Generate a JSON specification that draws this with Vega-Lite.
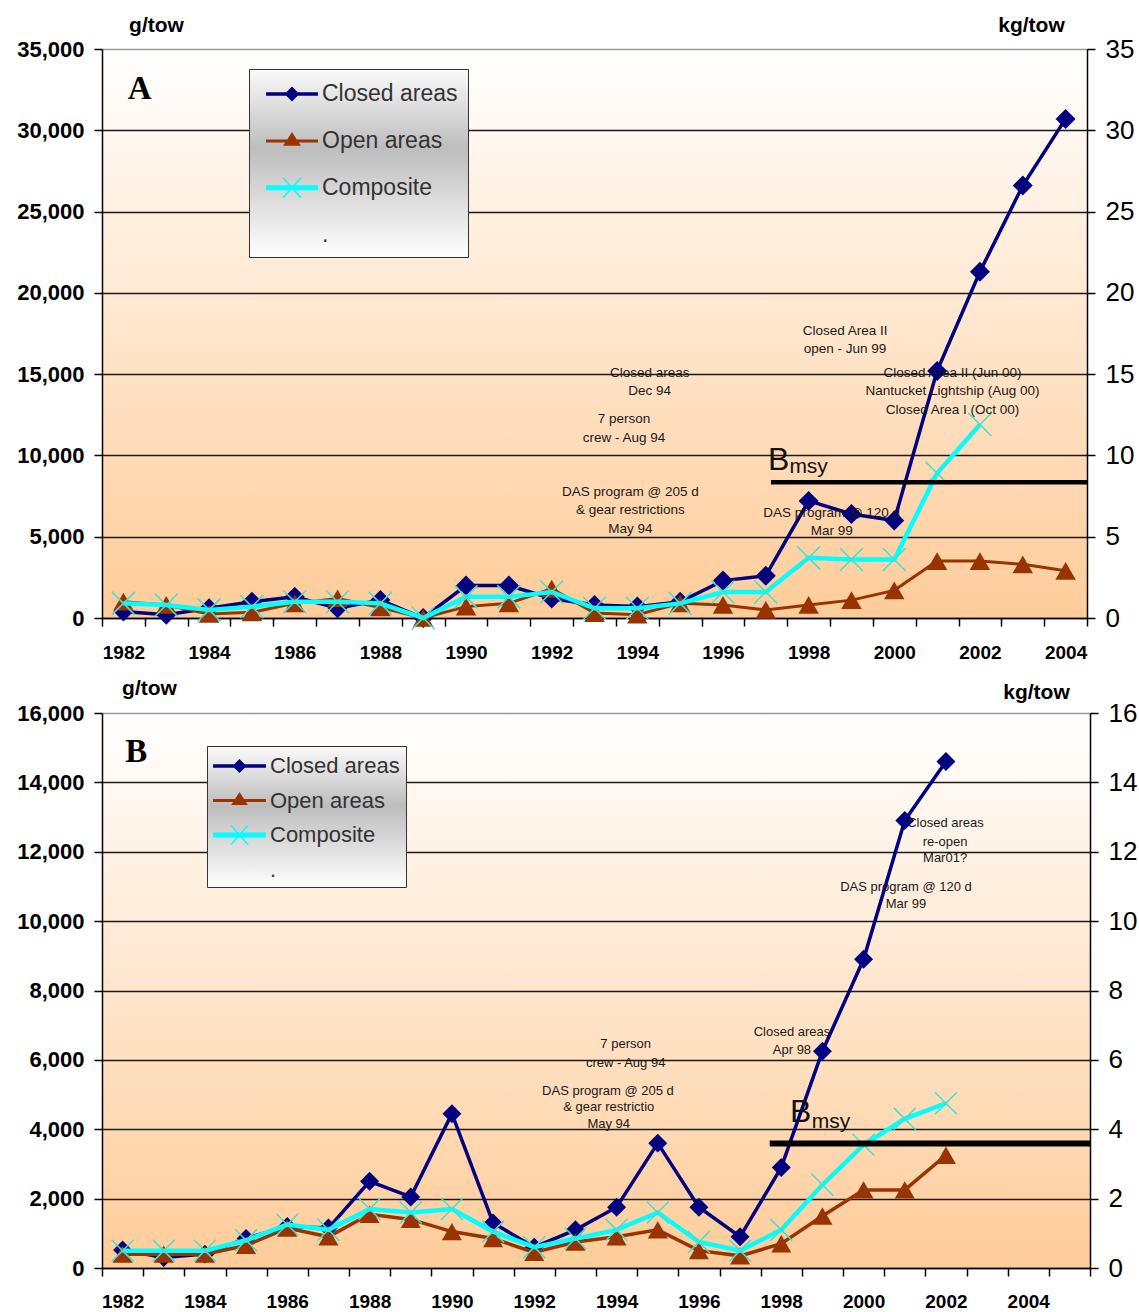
{
  "$schema": "https://vega.github.io/schema/vega-lite/v6.json",
  "background": "white",
  "padding": {"left": 16, "top": 14, "right": 5, "bottom": 5},
  "spacing": 15,
  "config": {
    "view": {"fill": {"gradient": "linear", "x1": 0, "y1": 0, "x2": 0, "y2": 1, "stops": [{"offset": 0, "color": "#ffffff"}, {"offset": 1, "color": "#ffcc99"}]}, "stroke": null},
    "font": "Liberation Sans",
    "axis": {"domainColor": "#000000", "tickColor": "#000000", "domainWidth": 1.5, "tickWidth": 1.5, "labelColor": "#000000", "titleColor": "#000000"}
  },
  "datasets": {
    "series": [
      {"p":"A","s":"Closed areas","year":1982,"value":400},{"p":"A","s":"Closed areas","year":1983,"value":200},{"p":"A","s":"Closed areas","year":1984,"value":600},{"p":"A","s":"Closed areas","year":1985,"value":1000},{"p":"A","s":"Closed areas","year":1986,"value":1300},{"p":"A","s":"Closed areas","year":1987,"value":600},{"p":"A","s":"Closed areas","year":1988,"value":1100},{"p":"A","s":"Closed areas","year":1989,"value":0},{"p":"A","s":"Closed areas","year":1990,"value":2000},{"p":"A","s":"Closed areas","year":1991,"value":2000},{"p":"A","s":"Closed areas","year":1992,"value":1200},{"p":"A","s":"Closed areas","year":1993,"value":800},{"p":"A","s":"Closed areas","year":1994,"value":700},{"p":"A","s":"Closed areas","year":1995,"value":1000},{"p":"A","s":"Closed areas","year":1996,"value":2300},{"p":"A","s":"Closed areas","year":1997,"value":2600},{"p":"A","s":"Closed areas","year":1998,"value":7200},{"p":"A","s":"Closed areas","year":1999,"value":6400},{"p":"A","s":"Closed areas","year":2000,"value":6000},{"p":"A","s":"Closed areas","year":2001,"value":15200},{"p":"A","s":"Closed areas","year":2002,"value":21300},{"p":"A","s":"Closed areas","year":2003,"value":26600},{"p":"A","s":"Closed areas","year":2004,"value":30700},
      {"p":"A","s":"Open areas","year":1982,"value":1000},{"p":"A","s":"Open areas","year":1983,"value":800},{"p":"A","s":"Open areas","year":1984,"value":250},{"p":"A","s":"Open areas","year":1985,"value":350},{"p":"A","s":"Open areas","year":1986,"value":900},{"p":"A","s":"Open areas","year":1987,"value":1200},{"p":"A","s":"Open areas","year":1988,"value":650},{"p":"A","s":"Open areas","year":1989,"value":0},{"p":"A","s":"Open areas","year":1990,"value":700},{"p":"A","s":"Open areas","year":1991,"value":900},{"p":"A","s":"Open areas","year":1992,"value":1800},{"p":"A","s":"Open areas","year":1993,"value":300},{"p":"A","s":"Open areas","year":1994,"value":200},{"p":"A","s":"Open areas","year":1995,"value":900},{"p":"A","s":"Open areas","year":1996,"value":800},{"p":"A","s":"Open areas","year":1997,"value":500},{"p":"A","s":"Open areas","year":1998,"value":800},{"p":"A","s":"Open areas","year":1999,"value":1100},{"p":"A","s":"Open areas","year":2000,"value":1700},{"p":"A","s":"Open areas","year":2001,"value":3500},{"p":"A","s":"Open areas","year":2002,"value":3500},{"p":"A","s":"Open areas","year":2003,"value":3300},{"p":"A","s":"Open areas","year":2004,"value":2900},
      {"p":"A","s":"Composite","year":1982,"value":900},{"p":"A","s":"Composite","year":1983,"value":800},{"p":"A","s":"Composite","year":1984,"value":500},{"p":"A","s":"Composite","year":1985,"value":700},{"p":"A","s":"Composite","year":1986,"value":1000},{"p":"A","s":"Composite","year":1987,"value":1000},{"p":"A","s":"Composite","year":1988,"value":900},{"p":"A","s":"Composite","year":1989,"value":0},{"p":"A","s":"Composite","year":1990,"value":1300},{"p":"A","s":"Composite","year":1991,"value":1300},{"p":"A","s":"Composite","year":1992,"value":1600},{"p":"A","s":"Composite","year":1993,"value":600},{"p":"A","s":"Composite","year":1994,"value":600},{"p":"A","s":"Composite","year":1995,"value":900},{"p":"A","s":"Composite","year":1996,"value":1600},{"p":"A","s":"Composite","year":1997,"value":1600},{"p":"A","s":"Composite","year":1998,"value":3700},{"p":"A","s":"Composite","year":1999,"value":3600},{"p":"A","s":"Composite","year":2000,"value":3600},{"p":"A","s":"Composite","year":2001,"value":8900},{"p":"A","s":"Composite","year":2002,"value":11900},
      {"p":"B","s":"Closed areas","year":1982,"value":520},{"p":"B","s":"Closed areas","year":1983,"value":300},{"p":"B","s":"Closed areas","year":1984,"value":400},{"p":"B","s":"Closed areas","year":1985,"value":850},{"p":"B","s":"Closed areas","year":1986,"value":1200},{"p":"B","s":"Closed areas","year":1987,"value":1150},{"p":"B","s":"Closed areas","year":1988,"value":2500},{"p":"B","s":"Closed areas","year":1989,"value":2050},{"p":"B","s":"Closed areas","year":1990,"value":4450},{"p":"B","s":"Closed areas","year":1991,"value":1300},{"p":"B","s":"Closed areas","year":1992,"value":600},{"p":"B","s":"Closed areas","year":1993,"value":1100},{"p":"B","s":"Closed areas","year":1994,"value":1750},{"p":"B","s":"Closed areas","year":1995,"value":3600},{"p":"B","s":"Closed areas","year":1996,"value":1750},{"p":"B","s":"Closed areas","year":1997,"value":900},{"p":"B","s":"Closed areas","year":1998,"value":2900},{"p":"B","s":"Closed areas","year":1999,"value":6250},{"p":"B","s":"Closed areas","year":2000,"value":8900},{"p":"B","s":"Closed areas","year":2001,"value":12900},{"p":"B","s":"Closed areas","year":2002,"value":14600},
      {"p":"B","s":"Open areas","year":1982,"value":400},{"p":"B","s":"Open areas","year":1983,"value":400},{"p":"B","s":"Open areas","year":1984,"value":400},{"p":"B","s":"Open areas","year":1985,"value":650},{"p":"B","s":"Open areas","year":1986,"value":1150},{"p":"B","s":"Open areas","year":1987,"value":900},{"p":"B","s":"Open areas","year":1988,"value":1550},{"p":"B","s":"Open areas","year":1989,"value":1400},{"p":"B","s":"Open areas","year":1990,"value":1050},{"p":"B","s":"Open areas","year":1991,"value":850},{"p":"B","s":"Open areas","year":1992,"value":450},{"p":"B","s":"Open areas","year":1993,"value":750},{"p":"B","s":"Open areas","year":1994,"value":900},{"p":"B","s":"Open areas","year":1995,"value":1100},{"p":"B","s":"Open areas","year":1996,"value":500},{"p":"B","s":"Open areas","year":1997,"value":350},{"p":"B","s":"Open areas","year":1998,"value":700},{"p":"B","s":"Open areas","year":1999,"value":1500},{"p":"B","s":"Open areas","year":2000,"value":2250},{"p":"B","s":"Open areas","year":2001,"value":2250},{"p":"B","s":"Open areas","year":2002,"value":3250},
      {"p":"B","s":"Composite","year":1982,"value":500},{"p":"B","s":"Composite","year":1983,"value":500},{"p":"B","s":"Composite","year":1984,"value":500},{"p":"B","s":"Composite","year":1985,"value":800},{"p":"B","s":"Composite","year":1986,"value":1250},{"p":"B","s":"Composite","year":1987,"value":1100},{"p":"B","s":"Composite","year":1988,"value":1700},{"p":"B","s":"Composite","year":1989,"value":1600},{"p":"B","s":"Composite","year":1990,"value":1700},{"p":"B","s":"Composite","year":1991,"value":1050},{"p":"B","s":"Composite","year":1992,"value":600},{"p":"B","s":"Composite","year":1993,"value":850},{"p":"B","s":"Composite","year":1994,"value":1100},{"p":"B","s":"Composite","year":1995,"value":1600},{"p":"B","s":"Composite","year":1996,"value":750},{"p":"B","s":"Composite","year":1997,"value":500},{"p":"B","s":"Composite","year":1998,"value":1100},{"p":"B","s":"Composite","year":1999,"value":2400},{"p":"B","s":"Composite","year":2000,"value":3550},{"p":"B","s":"Composite","year":2001,"value":4300},{"p":"B","s":"Composite","year":2002,"value":4750}
    ],
    "bmsy": [
      {"p":"A","year":1997.12,"year2":2004.5,"value":8350},
      {"p":"B","year":1997.72,"year2":2005.5,"value":3590}
    ],
    "notes": [
      {"p":"A","k":"note","year":1998.85,"value":17654,"text":"Closed Area II"},
      {"p":"A","k":"note","year":1998.85,"value":16547,"text":"open - Jun 99"},
      {"p":"A","k":"note","year":1994.29,"value":15089,"text":"Closed areas"},
      {"p":"A","k":"note","year":1994.29,"value":13982,"text":"Dec 94"},
      {"p":"A","k":"note","year":1993.69,"value":12241,"text":"7  person"},
      {"p":"A","k":"note","year":1993.69,"value":11054,"text":"crew - Aug 94"},
      {"p":"A","k":"note","year":1993.84,"value":7769,"text":"DAS program @ 205 d"},
      {"p":"A","k":"note","year":1993.84,"value":6643,"text":"& gear restrictions"},
      {"p":"A","k":"note","year":1993.84,"value":5493,"text":"May 94"},
      {"p":"A","k":"note","year":1998.54,"value":6440,"text":"DAS program @ 120 d"},
      {"p":"A","k":"note","year":1998.54,"value":5370,"text":"Mar 99"},
      {"p":"A","k":"note","year":2001.36,"value":15089,"text":"Closed Area II (Jun 00)"},
      {"p":"A","k":"note","year":2001.36,"value":13982,"text":"Nantucket Lightship (Aug 00)"},
      {"p":"A","k":"note","year":2001.36,"value":12794,"text":"Closed Area I (Oct 00)"},
      {"p":"A","k":"big","year":1997.3,"value":9100,"text":"B"},
      {"p":"A","k":"sub","year":1998.0,"value":8900,"text":"msy"},
      {"p":"A","k":"panel","year":1982.38,"value":31900,"text":"A"},
      {"p":"B","k":"note","year":2001.99,"value":12820,"text":"Closed areas"},
      {"p":"B","k":"note","year":2001.98,"value":12290,"text":"re-open"},
      {"p":"B","k":"note","year":2001.98,"value":11830,"text":"Mar01?"},
      {"p":"B","k":"note","year":2001.03,"value":10990,"text":"DAS program @ 120 d"},
      {"p":"B","k":"note","year":2001.03,"value":10480,"text":"Mar 99"},
      {"p":"B","k":"note","year":1998.26,"value":6810,"text":"Closed areas"},
      {"p":"B","k":"note","year":1998.26,"value":6280,"text":"Apr 98"},
      {"p":"B","k":"note","year":1994.22,"value":6450,"text":"7 person"},
      {"p":"B","k":"note","year":1994.22,"value":5900,"text":"crew - Aug 94"},
      {"p":"B","k":"note","year":1993.79,"value":5110,"text":"DAS program @ 205 d"},
      {"p":"B","k":"note","year":1993.81,"value":4650,"text":"& gear restrictio"},
      {"p":"B","k":"note","year":1993.81,"value":4150,"text":"May 94"},
      {"p":"B","k":"big","year":1998.47,"value":4220,"text":"B"},
      {"p":"B","k":"sub","year":1999.21,"value":4030,"text":"msy"},
      {"p":"B","k":"panel","year":1982.33,"value":14600,"text":"B"}
    ]
  },
  "resolve": {"scale": {"x": "independent", "y": "independent", "color": "independent", "shape": "independent"}, "legend": {"color": "independent", "shape": "independent"}},
  "vconcat": [
    {
      "width": 985,
      "height": 569,
      "encoding": {
        "x": {"field": "year", "type": "quantitative", "scale": {"domain": [1981.5, 2004.5], "nice": false, "zero": false},
          "axis": {"values": [1981.5,1982.5,1983.5,1984.5,1985.5,1986.5,1987.5,1988.5,1989.5,1990.5,1991.5,1992.5,1993.5,1994.5,1995.5,1996.5,1997.5,1998.5,1999.5,2000.5,2001.5,2002.5,2003.5,2004.5],
            "labelExpr": "((datum.value + 0.5) % 2 == 0 && datum.value < 2005) ? format(datum.value + 0.5, 'd') : ''",
            "labelOffset": 21.41, "labelFlush": false, "labelOverlap": false, "labelBound": false, "grid": false, "tickSize": 8, "labelPadding": 17, "title": null,
            "labelFont": "Liberation Sans", "labelFontWeight": "bold", "labelFontSize": 19}},
        "y": {"field": "value", "type": "quantitative", "scale": {"domain": [0, 35000], "nice": false, "zero": true}, "axis": null}
      },
      "layer": [
        {"data": {"name": "series"}, "transform": [{"filter": "datum.p == 'A' && datum.s == 'Closed areas'"}],
         "mark": {"type": "line", "color": "#000080", "strokeWidth": 3.5},
         "encoding": {"y": {"field": "value", "type": "quantitative", "scale": {"domain": [0, 35000], "nice": false, "zero": true},
           "axis": {"orient": "left", "values": [0,5000,10000,15000,20000,25000,30000,35000], "labelExpr": "format(datum.value, ',')", "grid": true,
             "gridColor": {"condition": {"test": "datum.value == 35000", "value": "#9a9a9a"}, "value": "#1a1a1a"}, "gridWidth": 1.5,
             "tickSize": 8, "labelPadding": 10, "labelFont": "Liberation Sans", "labelFontWeight": "bold", "labelFontSize": 22,
             "title": "g/tow", "titleAngle": 0, "titleX": 54, "titleY": -24, "titleAlign": "center", "titleBaseline": "middle",
             "titleFont": "Liberation Sans", "titleFontWeight": "bold", "titleFontSize": 21}}}},
        {"data": {"name": "series"}, "transform": [{"filter": "datum.p == 'A' && datum.s == 'Closed areas'"}],
         "mark": {"type": "point", "shape": "diamond", "filled": true, "size": 400, "color": "#000080", "opacity": 1}},
        {"data": {"name": "series"}, "transform": [{"filter": "datum.p == 'A' && datum.s == 'Open areas'"}],
         "mark": {"type": "line", "color": "#993300", "strokeWidth": 3}},
        {"data": {"name": "series"}, "transform": [{"filter": "datum.p == 'A' && datum.s == 'Open areas'"}],
         "mark": {"type": "point", "shape": "triangle-up", "filled": true, "size": 420, "color": "#993300", "opacity": 1}},
        {"data": {"name": "series"}, "transform": [{"filter": "datum.p == 'A' && datum.s == 'Composite'"}],
         "mark": {"type": "line", "color": "#00ffff", "strokeWidth": 4.5}},
        {"data": {"name": "series"}, "transform": [{"filter": "datum.p == 'A' && datum.s == 'Composite'"}],
         "mark": {"type": "point", "shape": "M-1,-1L1,1M-1,1L1,-1", "filled": false, "size": 530, "stroke": "#40e0d0", "strokeWidth": 1.5, "opacity": 1}},
        {"data": {"name": "bmsy"}, "transform": [{"filter": "datum.p == 'A'"}],
         "mark": {"type": "rule", "color": "#000000", "strokeWidth": 4.5},
         "encoding": {"x2": {"field": "year2"},
           "y": {"field": "value", "type": "quantitative", "scale": {"domain": [0, 35000], "nice": false, "zero": true},
             "axis": {"orient": "right", "values": [0,5000,10000,15000,20000,25000,30000,35000], "labelExpr": "format(datum.value / 1000, 'd')", "grid": false,
               "tickSize": 8, "labelPadding": 10, "labelFont": "Liberation Sans", "labelFontSize": 26,
               "title": "kg/tow", "titleAngle": 0, "titleX": -56, "titleY": -24, "titleAlign": "center", "titleBaseline": "middle",
               "titleFont": "Liberation Sans", "titleFontWeight": "bold", "titleFontSize": 21}}}},
        {"data": {"name": "notes"}, "transform": [{"filter": "datum.p == 'A' && datum.k == 'note'"}],
         "mark": {"type": "text", "font": "Liberation Sans", "fontSize": 13.5, "color": "#1a1a1a", "align": "center", "baseline": "middle"},
         "encoding": {"text": {"field": "text"}}},
        {"data": {"name": "notes"}, "transform": [{"filter": "datum.p == 'A' && datum.k == 'big'"}],
         "mark": {"type": "text", "font": "Liberation Sans", "fontSize": 32, "color": "#111111", "align": "center", "baseline": "alphabetic"},
         "encoding": {"text": {"field": "text"}}},
        {"data": {"name": "notes"}, "transform": [{"filter": "datum.p == 'A' && datum.k == 'sub'"}],
         "mark": {"type": "text", "font": "Liberation Sans", "fontSize": 21, "color": "#111111", "align": "center", "baseline": "alphabetic"},
         "encoding": {"text": {"field": "text"}}},
        {"data": {"name": "notes"}, "transform": [{"filter": "datum.p == 'A' && datum.k == 'panel'"}],
         "mark": {"type": "text", "font": "Liberation Serif", "fontWeight": "bold", "fontSize": 33, "color": "#000000", "align": "center", "baseline": "alphabetic"},
         "encoding": {"text": {"field": "text"}}},
        {"data": {"name": "series"}, "transform": [{"filter": "false"}],
         "mark": {"type": "point", "filled": true, "size": 900, "opacity": 1},
         "encoding": {
           "color": {"field": "s", "type": "nominal", "scale": {"domain": ["Closed areas", "Open areas", "Composite", "."], "range": ["#000080", "#993300", "#00ffff", "#555555"]},
             "legend": {"orient": "none", "legendX": 147, "legendY": 20, "title": null, "padding": 10, "symbolOffset": 18, "labelOffset": 15, "rowPadding": 19.9,
               "labelFont": "Liberation Sans", "labelFontSize": 23, "labelColor": "#333333", "symbolSize": 900, "symbolStrokeWidth": 0,
               "strokeColor": "#333333",
               "fillColor": {"value": {"gradient": "linear", "x1": 0, "y1": 0, "x2": 0, "y2": 1, "stops": [{"offset": 0, "color": "#fafafa"}, {"offset": 0.42, "color": "#bdbdbd"}, {"offset": 1, "color": "#ffffff"}]}}}},
           "shape": {"field": "s", "type": "nominal", "scale": {"domain": ["Closed areas", "Open areas", "Composite", "."], "range": [
               "M-1.73,-0.12L-0.38,-0.12L0,-0.5L0.38,-0.12L1.73,-0.12L1.73,0.12L0.38,0.12L0,0.5L-0.38,0.12L-1.73,0.12Z",
               "M-1.73,-0.1L-0.32,-0.1L0,-0.6L0.32,-0.1L1.73,-0.1L1.73,0.1L0.45,0.1L0.6,0.33L-0.6,0.33L-0.45,0.1L-1.73,0.1Z",
               "M-1.73,-0.17L1.73,-0.17L1.73,0.17L-1.73,0.17Z M-0.67,-0.67L-0.53,-0.67L0.67,0.67L0.53,0.67Z M0.53,-0.67L0.67,-0.67L-0.53,0.67L-0.67,0.67Z",
               "M0,0"]},
             "legend": {"orient": "none", "legendX": 147, "legendY": 20, "title": null, "padding": 10, "symbolOffset": 18, "labelOffset": 15, "rowPadding": 19.9,
               "labelFont": "Liberation Sans", "labelFontSize": 23, "labelColor": "#333333", "symbolSize": 900, "symbolStrokeWidth": 0,
               "strokeColor": "#333333",
               "fillColor": {"value": {"gradient": "linear", "x1": 0, "y1": 0, "x2": 0, "y2": 1, "stops": [{"offset": 0, "color": "#fafafa"}, {"offset": 0.42, "color": "#bdbdbd"}, {"offset": 1, "color": "#ffffff"}]}}}}
         }}
      ],
      "resolve": {"axis": {"y": "independent"}}
    },
    {
      "width": 988,
      "height": 555,
      "encoding": {
        "x": {"field": "year", "type": "quantitative", "scale": {"domain": [1981.5, 2005.5], "nice": false, "zero": false},
          "axis": {"values": [1981.5,1982.5,1983.5,1984.5,1985.5,1986.5,1987.5,1988.5,1989.5,1990.5,1991.5,1992.5,1993.5,1994.5,1995.5,1996.5,1997.5,1998.5,1999.5,2000.5,2001.5,2002.5,2003.5,2004.5,2005.5],
            "labelExpr": "((datum.value + 0.5) % 2 == 0 && datum.value < 2005) ? format(datum.value + 0.5, 'd') : ''",
            "labelOffset": 20.58, "labelFlush": false, "labelOverlap": false, "labelBound": false, "grid": false, "tickSize": 8, "labelPadding": 16, "title": null,
            "labelFont": "Liberation Sans", "labelFontWeight": "bold", "labelFontSize": 19}},
        "y": {"field": "value", "type": "quantitative", "scale": {"domain": [0, 16000], "nice": false, "zero": true}, "axis": null}
      },
      "layer": [
        {"data": {"name": "series"}, "transform": [{"filter": "datum.p == 'B' && datum.s == 'Closed areas'"}],
         "mark": {"type": "line", "color": "#000080", "strokeWidth": 3.5},
         "encoding": {"y": {"field": "value", "type": "quantitative", "scale": {"domain": [0, 16000], "nice": false, "zero": true},
           "axis": {"orient": "left", "values": [0,2000,4000,6000,8000,10000,12000,14000,16000], "labelExpr": "format(datum.value, ',')", "grid": true,
             "gridColor": {"condition": {"test": "datum.value == 16000", "value": "#9a9a9a"}, "value": "#1a1a1a"}, "gridWidth": 1.5,
             "tickSize": 8, "labelPadding": 10, "labelFont": "Liberation Sans", "labelFontWeight": "bold", "labelFontSize": 22,
             "title": "g/tow", "titleAngle": 0, "titleX": 47, "titleY": -25, "titleAlign": "center", "titleBaseline": "middle",
             "titleFont": "Liberation Sans", "titleFontWeight": "bold", "titleFontSize": 21}}}},
        {"data": {"name": "series"}, "transform": [{"filter": "datum.p == 'B' && datum.s == 'Closed areas'"}],
         "mark": {"type": "point", "shape": "diamond", "filled": true, "size": 360, "color": "#000080", "opacity": 1}},
        {"data": {"name": "series"}, "transform": [{"filter": "datum.p == 'B' && datum.s == 'Open areas'"}],
         "mark": {"type": "line", "color": "#993300", "strokeWidth": 3.5}},
        {"data": {"name": "series"}, "transform": [{"filter": "datum.p == 'B' && datum.s == 'Open areas'"}],
         "mark": {"type": "point", "shape": "triangle-up", "filled": true, "size": 400, "color": "#993300", "opacity": 1}},
        {"data": {"name": "series"}, "transform": [{"filter": "datum.p == 'B' && datum.s == 'Composite'"}],
         "mark": {"type": "line", "color": "#00ffff", "strokeWidth": 4.5}},
        {"data": {"name": "series"}, "transform": [{"filter": "datum.p == 'B' && datum.s == 'Composite'"}],
         "mark": {"type": "point", "shape": "M-1,-1L1,1M-1,1L1,-1", "filled": false, "size": 480, "stroke": "#40e0d0", "strokeWidth": 1.5, "opacity": 1}},
        {"data": {"name": "bmsy"}, "transform": [{"filter": "datum.p == 'B'"}],
         "mark": {"type": "rule", "color": "#000000", "strokeWidth": 6},
         "encoding": {"x2": {"field": "year2"},
           "y": {"field": "value", "type": "quantitative", "scale": {"domain": [0, 16000], "nice": false, "zero": true},
             "axis": {"orient": "right", "values": [0,2000,4000,6000,8000,10000,12000,14000,16000], "labelExpr": "format(datum.value / 1000, 'd')", "grid": false,
               "tickSize": 8, "labelPadding": 10, "labelFont": "Liberation Sans", "labelFontSize": 26,
               "title": "kg/tow", "titleAngle": 0, "titleX": -54, "titleY": -21, "titleAlign": "center", "titleBaseline": "middle",
               "titleFont": "Liberation Sans", "titleFontWeight": "bold", "titleFontSize": 21}}}},
        {"data": {"name": "notes"}, "transform": [{"filter": "datum.p == 'B' && datum.k == 'note'"}],
         "mark": {"type": "text", "font": "Liberation Sans", "fontSize": 13, "color": "#1a1a1a", "align": "center", "baseline": "middle"},
         "encoding": {"text": {"field": "text"}}},
        {"data": {"name": "notes"}, "transform": [{"filter": "datum.p == 'B' && datum.k == 'big'"}],
         "mark": {"type": "text", "font": "Liberation Sans", "fontSize": 32, "color": "#111111", "align": "center", "baseline": "alphabetic"},
         "encoding": {"text": {"field": "text"}}},
        {"data": {"name": "notes"}, "transform": [{"filter": "datum.p == 'B' && datum.k == 'sub'"}],
         "mark": {"type": "text", "font": "Liberation Sans", "fontSize": 21, "color": "#111111", "align": "center", "baseline": "alphabetic"},
         "encoding": {"text": {"field": "text"}}},
        {"data": {"name": "notes"}, "transform": [{"filter": "datum.p == 'B' && datum.k == 'panel'"}],
         "mark": {"type": "text", "font": "Liberation Serif", "fontWeight": "bold", "fontSize": 33, "color": "#000000", "align": "center", "baseline": "alphabetic"},
         "encoding": {"text": {"field": "text"}}},
        {"data": {"name": "series"}, "transform": [{"filter": "false"}],
         "mark": {"type": "point", "filled": true, "size": 784, "opacity": 1},
         "encoding": {
           "color": {"field": "s", "type": "nominal", "scale": {"domain": ["Closed areas", "Open areas", "Composite", "."], "range": ["#000080", "#993300", "#00ffff", "#555555"]},
             "legend": {"orient": "none", "legendX": 105, "legendY": 33, "title": null, "padding": 6, "symbolOffset": 12.5, "labelOffset": 16.5, "rowPadding": 9.5,
               "labelFont": "Liberation Sans", "labelFontSize": 22, "labelColor": "#333333", "symbolSize": 784, "symbolStrokeWidth": 0,
               "strokeColor": "#333333",
               "fillColor": {"value": {"gradient": "linear", "x1": 0, "y1": 0, "x2": 0, "y2": 1, "stops": [{"offset": 0, "color": "#fafafa"}, {"offset": 0.42, "color": "#bdbdbd"}, {"offset": 1, "color": "#ffffff"}]}}}},
           "shape": {"field": "s", "type": "nominal", "scale": {"domain": ["Closed areas", "Open areas", "Composite", "."], "range": [
               "M-1.89,-0.12L-0.38,-0.12L0,-0.5L0.38,-0.12L1.89,-0.12L1.89,0.12L0.38,0.12L0,0.5L-0.38,0.12L-1.89,0.12Z",
               "M-1.89,-0.1L-0.32,-0.1L0,-0.6L0.32,-0.1L1.89,-0.1L1.89,0.1L0.45,0.1L0.6,0.33L-0.6,0.33L-0.45,0.1L-1.89,0.1Z",
               "M-1.89,-0.17L1.89,-0.17L1.89,0.17L-1.89,0.17Z M-0.67,-0.67L-0.53,-0.67L0.67,0.67L0.53,0.67Z M0.53,-0.67L0.67,-0.67L-0.53,0.67L-0.67,0.67Z",
               "M0,0"]},
             "legend": {"orient": "none", "legendX": 105, "legendY": 33, "title": null, "padding": 6, "symbolOffset": 12.5, "labelOffset": 16.5, "rowPadding": 9.5,
               "labelFont": "Liberation Sans", "labelFontSize": 22, "labelColor": "#333333", "symbolSize": 784, "symbolStrokeWidth": 0,
               "strokeColor": "#333333",
               "fillColor": {"value": {"gradient": "linear", "x1": 0, "y1": 0, "x2": 0, "y2": 1, "stops": [{"offset": 0, "color": "#fafafa"}, {"offset": 0.42, "color": "#bdbdbd"}, {"offset": 1, "color": "#ffffff"}]}}}}
         }}
      ],
      "resolve": {"axis": {"y": "independent"}}
    }
  ]
}
